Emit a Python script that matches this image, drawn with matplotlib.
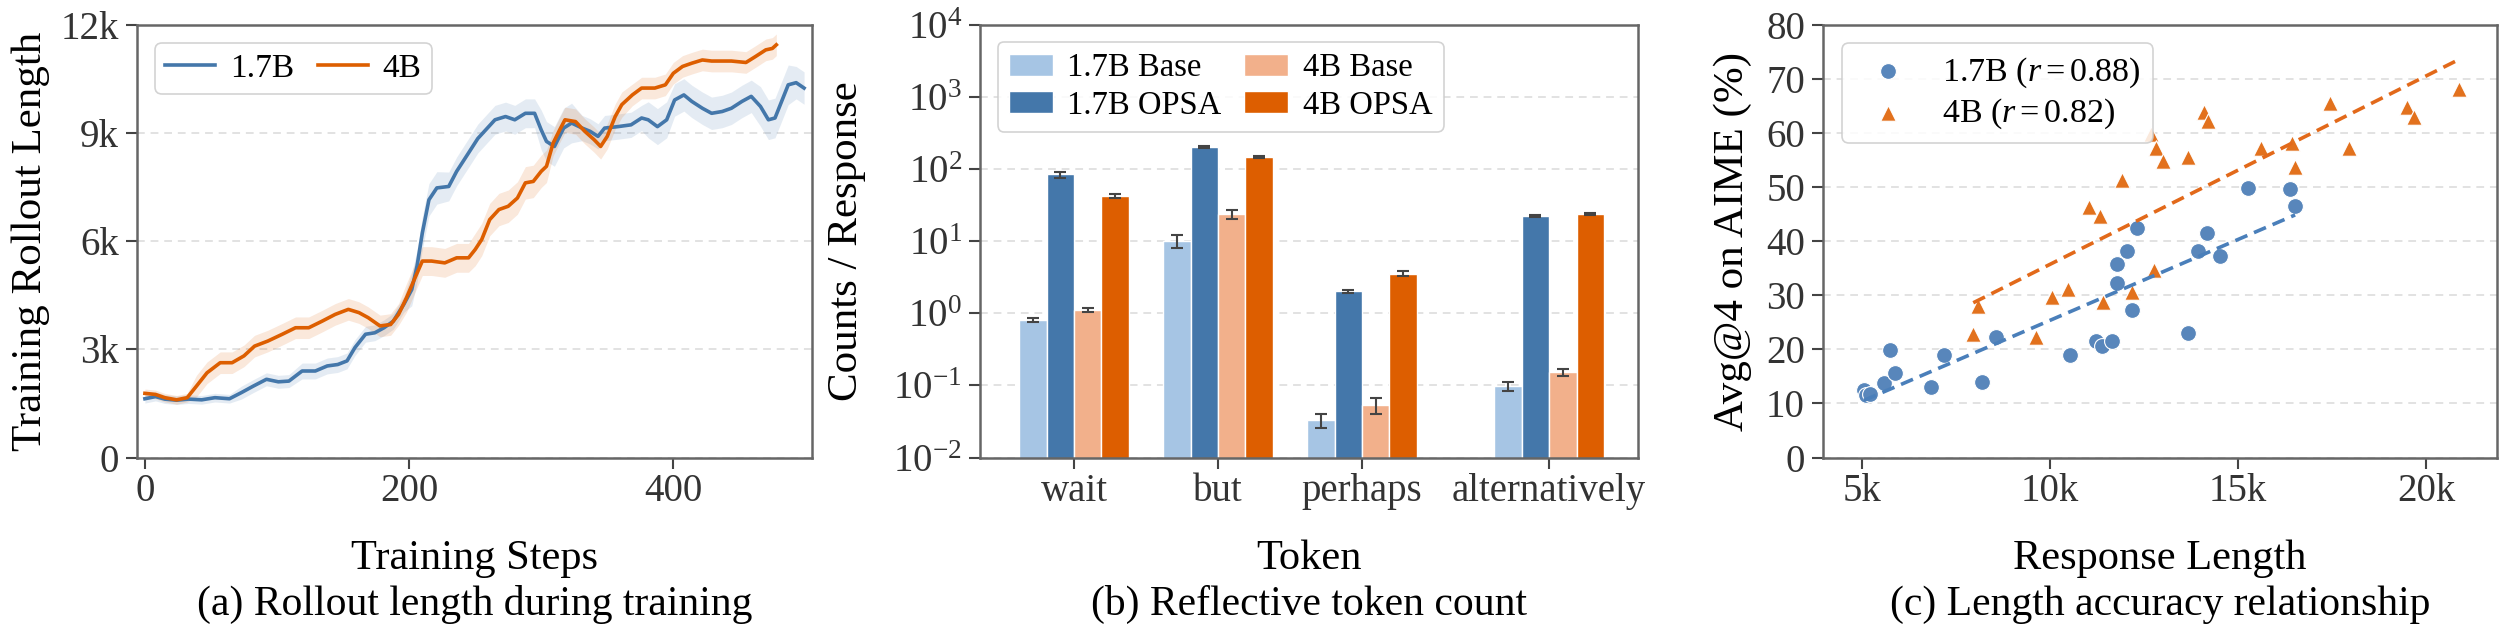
import numpy as np
import matplotlib
matplotlib.use('Agg')
import matplotlib.pyplot as plt
from matplotlib.ticker import FuncFormatter, NullLocator, LogLocator

plt.rcParams['font.family'] = ['Liberation Serif', 'DejaVu Serif']
plt.rcParams['mathtext.fontset'] = 'custom'
plt.rcParams['mathtext.rm'] = 'Liberation Serif'
plt.rcParams['mathtext.it'] = 'Liberation Serif:italic'
plt.rcParams['mathtext.bf'] = 'Liberation Serif:bold'

# ---------------- data: (a) rollout length ----------------
blue_steps = [0, 8, 15, 24, 33, 43, 53, 64, 73, 82, 92, 101, 109, 119, 129, 138, 146, 153, 159, 167,
              174, 181, 188, 196, 202, 206, 210, 215, 221, 230, 236, 245, 252, 258, 265, 273, 280, 288, 295, 300,
              304, 310, 317, 323, 331, 337, 343, 348, 358, 368, 376, 381, 388, 395, 401, 408, 414, 422, 429, 437,
              444, 452, 459, 466, 472, 477, 482, 487, 493, 499]
blue_len_k = [1.63, 1.69, 1.62, 1.59, 1.62, 1.60, 1.66, 1.63, 1.80, 1.98, 2.17, 2.10, 2.12, 2.40, 2.40, 2.54, 2.58, 2.68, 3.05, 3.42,
              3.46, 3.60, 3.78, 4.25, 4.66, 5.31, 6.23, 7.15, 7.48, 7.52, 7.94, 8.45, 8.85, 9.09, 9.37, 9.46, 9.37, 9.55, 9.55, 9.09,
              8.77, 8.63, 9.14, 9.28, 9.14, 9.05, 8.91, 9.14, 9.18, 9.23, 9.42, 9.37, 9.18, 9.37, 9.92, 10.06, 9.88, 9.69, 9.55, 9.60,
              9.69, 9.88, 10.02, 9.74, 9.37, 9.42, 9.88, 10.34, 10.40, 10.25]
blue_band_k = [0.12] * 8 + [0.18] * 5 + [0.22] * 5 + [0.22] * 6 + [0.45] * 5 + [0.40] * 10 + \
              [0.55] * 5 + [0.35] * 7 + [0.50] * 3 + [0.45] * 9 + [0.55] * 5 + [0.45] * 2

orange_steps = [0, 8, 15, 24, 32, 39, 47, 57, 66, 75, 83, 93, 104, 114, 124, 134, 144, 154, 162, 169,
                178, 186, 192, 198, 205, 210, 217, 227, 236, 245, 250, 255, 261, 268, 275, 282, 288, 294, 300, 304,
                309, 314, 318, 326, 333, 340, 345, 350, 356, 361, 369, 376, 386, 394, 400, 407, 414, 422, 429, 437,
                444, 455, 462, 470, 475, 478]
orange_len_k = [1.78, 1.75, 1.66, 1.60, 1.66, 1.98, 2.35, 2.63, 2.63, 2.82, 3.09, 3.23, 3.42, 3.60, 3.60, 3.78, 3.97, 4.11, 4.02, 3.88,
                3.65, 3.69, 3.97, 4.43, 5.03, 5.45, 5.45, 5.40, 5.54, 5.54, 5.77, 6.05, 6.60, 6.88, 6.97, 7.20, 7.62, 7.66, 7.94, 8.08,
                8.72, 9.09, 9.37, 9.32, 9.05, 8.82, 8.63, 8.91, 9.46, 9.79, 10.06, 10.25, 10.25, 10.34, 10.66, 10.85, 10.94, 11.03, 11.00, 11.00,
                11.00, 10.96, 11.12, 11.31, 11.35, 11.45]
orange_band_k = [0.12] * 5 + [0.30] * 4 + [0.30] * 14 + [0.40] * 7 + [0.45] * 10 + [0.35] * 10 + [0.30] * 16

# ---------------- data: (b) reflective tokens ----------------
tokens = ['wait', 'but', 'perhaps', 'alternatively']
token_pos = [0, 1, 2, 3.3]
base17 = [0.82, 10.2, 0.033, 0.098]
base17_err = [0.05, 2.1, 0.0075, 0.014]
opsa17 = [84.5, 204, 2.04, 22.5]
opsa17_err = [8, 5, 0.1, 0.6]
base4 = [1.12, 23.7, 0.053, 0.152]
base4_err = [0.07, 3.5, 0.013, 0.019]
opsa4 = [42.5, 148, 3.56, 23.7]
opsa4_err = [3, 5, 0.25, 0.6]
bar_labels = ['1.7B Base', '1.7B OPSA', '4B Base', '4B OPSA']

# ---------------- data: (c) length vs accuracy ----------------
len17_k = [5.05, 5.12, 5.20, 5.59, 5.74, 5.88, 6.84, 7.19, 8.19, 8.56, 10.53, 11.22, 11.39, 11.66, 11.77, 11.79,
           12.06, 12.19, 12.31, 13.66, 13.94, 14.18, 14.52, 15.26, 16.38, 16.52]
acc17 = [12.4, 11.5, 11.7, 13.8, 19.8, 15.6, 13.1, 19.0, 13.9, 22.3, 18.9, 21.5, 20.6, 21.5, 32.3, 35.7,
         38.2, 27.3, 42.4, 23.1, 38.2, 41.5, 37.3, 49.9, 49.6, 46.5]
len4_k = [7.96, 8.09, 9.62, 10.05, 10.49, 11.05, 11.33, 11.42, 11.92, 12.17, 12.69, 12.81, 12.77, 13.01, 13.68,
          14.10, 14.20, 15.60, 16.45, 16.53, 17.46, 17.95, 19.50, 19.69, 20.88]
acc4 = [22.9, 28.0, 22.2, 29.6, 31.2, 46.4, 44.6, 28.8, 51.4, 30.6, 59.8, 57.2, 34.6, 54.8, 55.6,
        63.9, 62.3, 57.2, 58.1, 53.8, 65.5, 57.2, 64.8, 63.0, 68.1]

# ---------------- styling ----------------
C_BLUE = '#4477aa'
C_ORANGE = '#dd5e00'
C_LBLUE = '#a6c5e4'
C_LORANGE = '#f2b08b'
C_SC_BLUE = '#5886bb'
C_SC_ORANGE = '#e2711d'

TICK_FS = 28
LABEL_FS = 30.5
YLABEL_FS = 31
CAP_FS = 30
LEG_FS = 23.5

W, H = 2507, 638
fig = plt.figure(figsize=(W / 100, H / 100), dpi=100)


def add_ax(l, r, t=25, b=457.5):
    return fig.add_axes([l / W, (H - b) / H, (r - l) / W, (b - t) / H])


def style(ax):
    for s in ax.spines.values():
        s.set_color('#666666')
        s.set_linewidth(1.8)
    ax.tick_params(axis='both', which='major', direction='out', length=8, width=1.5,
                   color='#444444', labelcolor='#333333', labelsize=TICK_FS)
    ax.tick_params(axis='y', pad=5)
    ax.tick_params(axis='x', pad=3)
    ax.yaxis.grid(True, linestyle=(0, (4, 3)), color='#e2e2e2', linewidth=1.4)
    ax.set_axisbelow(True)


def legend_frame(leg):
    fr = leg.get_frame()
    fr.set_edgecolor('#cccccc')
    fr.set_linewidth(1.2)
    fr.set_alpha(0.85)


axA = add_ax(137, 812)
axB = add_ax(980, 1638)
axC = add_ax(1823, 2497)
for ax in (axA, axB, axC):
    style(ax)

# ---- (a)
for steps, vals, band, col, lab in [(blue_steps, blue_len_k, blue_band_k, C_BLUE, '1.7B'),
                                     (orange_steps, orange_len_k, orange_band_k, C_ORANGE, '4B')]:
    s = np.array(steps)
    v = np.array(vals) * 1000
    h = np.array(band) * 1000
    axA.fill_between(s, v - h, v + h, color=col, alpha=0.14, linewidth=0)
    axA.plot(s, v, color=col, lw=2.6, label=lab)
axA.set_xlim(-6, 505)
axA.set_ylim(0, 12000)
axA.set_xticks([0, 200, 400])
axA.set_yticks([0, 3000, 6000, 9000, 12000])
axA.yaxis.set_major_formatter(FuncFormatter(lambda v, _: '0' if v == 0 else f'{int(round(v / 1000))}k'))
axA.set_xlabel('Training Steps', fontsize=LABEL_FS)
axA.set_ylabel('Training Rollout Length', fontsize=YLABEL_FS)
axA.xaxis.set_label_coords(0.5, -0.19)
axA.yaxis.set_label_coords(-0.129, 0.5)
legA = axA.legend(loc='upper left', bbox_to_anchor=(0.027, 0.958), borderaxespad=0, ncol=2,
                  fontsize=LEG_FS + 0.5, handlelength=1.5, handletextpad=0.45, columnspacing=0.7,
                  borderpad=0.3, fancybox=True)
legend_frame(legA)

# ---- (b)
width = 0.19
offsets = [-0.285, -0.095, 0.095, 0.285]
pos = np.array(token_pos)
for off, vals, errs, col, lab in zip(offsets, [base17, opsa17, base4, opsa4],
                                     [base17_err, opsa17_err, base4_err, opsa4_err],
                                     [C_LBLUE, C_BLUE, C_LORANGE, C_ORANGE], bar_labels):
    axB.bar(pos + off, vals, width, yerr=errs, color=col, edgecolor='white', linewidth=1.0, label=lab,
            error_kw=dict(ecolor='#444444', elinewidth=1.5, capsize=4.5, capthick=1.5))
axB.set_yscale('log')
axB.set_ylim(1e-2, 1e4)
axB.yaxis.set_major_locator(LogLocator(base=10, numticks=10))
axB.yaxis.set_minor_locator(NullLocator())
axB.set_xticks(token_pos, tokens)
axB.set_xlim(-0.653, 3.917)
axB.set_xlabel('Token', fontsize=LABEL_FS)
axB.set_ylabel('Counts / Response', fontsize=YLABEL_FS)
axB.xaxis.set_label_coords(0.5, -0.19)
axB.yaxis.set_label_coords(-0.173, 0.5)
legB = axB.legend(loc='upper left', bbox_to_anchor=(0.027, 0.961), borderaxespad=0, ncol=2,
                  fontsize=LEG_FS, handlelength=1.35, handleheight=0.65, handletextpad=0.45,
                  columnspacing=0.7, labelspacing=0.22, borderpad=0.33, fancybox=True)
legend_frame(legB)

# ---- (c)
x17 = np.array(len17_k) * 1000
x4 = np.array(len4_k) * 1000
axC.scatter(x17, acc17, s=130, color=C_SC_BLUE, edgecolor='white', linewidth=0.8, zorder=3,
            label=r'1.7B ($r=0.88$)')
axC.scatter(x4, acc4, s=125, marker='^', color=C_SC_ORANGE, edgecolor='white', linewidth=0.8, zorder=3,
            label=r'4B ($r=0.82$)')
for x, y, col in [(x17, acc17, '#4a7fba'), (x4, acc4, '#e2691a')]:
    k, b = np.polyfit(x, y, 1)
    xs = np.array([x.min(), x.max()])
    axC.plot(xs, k * xs + b, color=col, lw=2.6, linestyle=(0, (3.6, 2.0)), zorder=4)
axC.set_xlim(3963, 21890)
axC.set_ylim(0, 80)
axC.set_xticks([5000, 10000, 15000, 20000])
axC.xaxis.set_major_formatter(FuncFormatter(lambda v, _: f'{int(round(v / 1000))}k'))
axC.set_yticks(range(0, 81, 10))
axC.set_xlabel('Response Length', fontsize=LABEL_FS)
axC.set_ylabel('Avg@4 on AIME (%)', fontsize=YLABEL_FS)
axC.xaxis.set_label_coords(0.5, -0.19)
axC.yaxis.set_label_coords(-0.105, 0.5)
legC = axC.legend(loc='upper left', bbox_to_anchor=(0.028, 0.958), borderaxespad=0,
                  fontsize=LEG_FS + 1, handletextpad=0.6, labelspacing=0.2, borderpad=0.35,
                  fancybox=True, scatterpoints=1)
legend_frame(legC)

# ---- captions
fig.text((137 + 812) / 2 / W, 0.036, '(a) Rollout length during training', ha='center', va='baseline', fontsize=CAP_FS)
fig.text((980 + 1638) / 2 / W, 0.036, '(b) Reflective token count', ha='center', va='baseline', fontsize=CAP_FS)
fig.text((1823 + 2497) / 2 / W, 0.036, '(c) Length accuracy relationship', ha='center', va='baseline', fontsize=CAP_FS)

fig.savefig('out.png', dpi=100)
